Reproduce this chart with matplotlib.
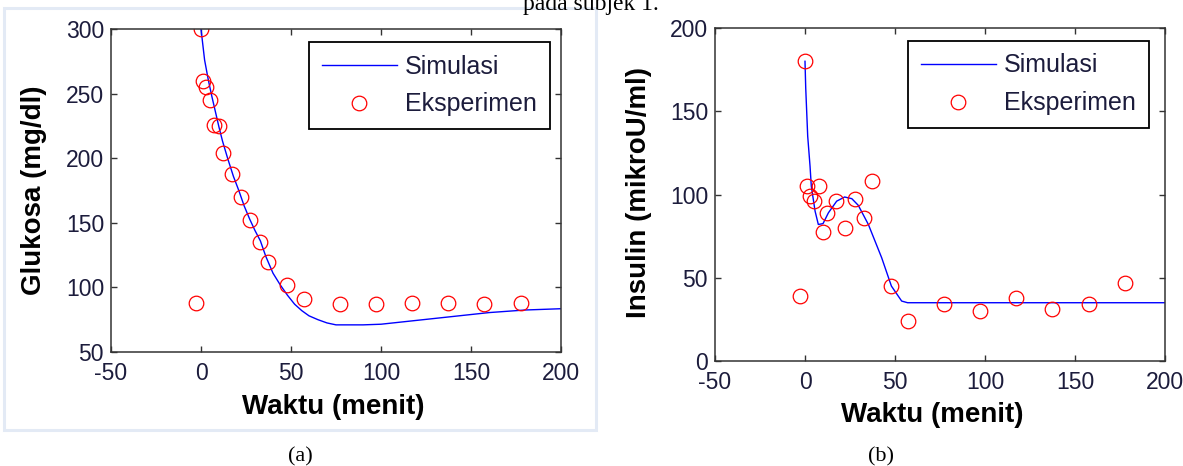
import matplotlib
matplotlib.use('Agg')
import matplotlib.pyplot as plt
from matplotlib.patches import Rectangle

# ---------------- data ----------------
t_data = [-3, 0, 1, 3, 5, 7, 10, 12, 17, 22, 27, 33, 37, 48, 57, 77, 97, 117, 137, 157, 178]
glukosa_data = [88, 300, 260, 255, 245, 226, 225, 204, 188, 170, 152, 135, 120, 102, 91, 87, 87, 88, 88, 87, 88]
t_ins_data = [-3, 0, 1, 3, 5, 8, 10, 12, 17, 22, 28, 33, 37, 48, 57, 77, 97, 117, 137, 158, 178]
insulin_data = [39, 180, 105, 99, 96, 105, 77.5, 89, 96, 80, 97, 86, 108, 45, 24, 34, 30, 38, 31, 34, 47]

t_sim_g = [0, 2, 4, 6, 8, 10, 12, 15, 18, 21, 24, 27, 30, 33, 36, 40, 44, 48, 52, 56, 60, 65,
           70, 75, 80, 90, 100, 110, 120, 130, 140, 150, 160, 170, 180, 190, 200]
glukosa_sim = [300, 276, 261, 248, 236, 224, 213, 199, 186, 175, 163, 153, 144, 136, 124, 111, 102,
               94, 87, 82, 78, 75, 72.5, 71, 71, 71, 71.5, 73, 74.5, 76, 77.5, 79, 80.5, 81.5, 82.5, 83, 83.5]

t_sim_i = [0, 0.4, 1.5, 2.8, 3.5, 5.6, 7.4, 10, 13, 17.6, 22, 26, 29.6, 35.2, 42.6, 48, 53.7, 57,
           65, 100, 150, 200]
insulin_sim = [180, 164, 135, 117, 105, 90, 82, 82.5, 89, 96, 98.5, 97.5, 93.5, 82, 62, 45, 36, 35,
               35, 35, 35, 35]

x_ticks = [-50, 0, 50, 100, 150, 200]
g_ticks = [50, 100, 150, 200, 250, 300]
i_ticks = [0, 50, 100, 150, 200]

# ---------------- style ----------------
plt.rcParams['font.family'] = ['Liberation Sans', 'DejaVu Sans']
plt.rcParams['axes.unicode_minus'] = False
W, H = 1183, 466
fig = plt.figure(figsize=(W / 100, H / 100), dpi=100)


def px(x0, y0, x1, y1):
    return [x0 / W, 1 - y1 / H, (x1 - x0) / W, (y1 - y0) / H]


tick_color = '#1c1c3c'
spine_color = '#333333'

# light frame around panel (a)
fig.patches.append(Rectangle((4 / W, 1 - 430 / H), 592 / W, 422 / H, transform=fig.transFigure,
                             fill=False, edgecolor='#e3eaf5', linewidth=2.2))


def style(ax):
    for s in ax.spines.values():
        s.set_color(spine_color)
        s.set_linewidth(1.1)
    ax.tick_params(direction='in', top=True, right=True, length=4, width=1,
                   color=spine_color, labelsize=16.5, labelcolor=tick_color)
    ax.tick_params(axis='x', pad=7)
    ax.tick_params(axis='y', pad=5)


def make_legend(ax, x0, y0):
    leg = ax.legend(loc='upper left', bbox_to_anchor=(x0 / W, 1 - y0 / H),
                    bbox_transform=fig.transFigure, borderaxespad=0, fancybox=False,
                    framealpha=1, edgecolor='black', fontsize=18, handlelength=3.0,
                    handletextpad=0.35, labelspacing=0.55, borderpad=0.5, numpoints=1)
    leg.get_frame().set_linewidth(1.3)
    for txt in leg.get_texts():
        txt.set_color(tick_color)
    return leg


# ---------------- panel (a) ----------------
ax1 = fig.add_axes(px(111, 29, 561, 352))
ax1.plot(t_sim_g, glukosa_sim, color='#0000ff', lw=1.0, label='Simulasi')
ax1.plot(t_data, glukosa_data, 'o', mfc='none', mec='#ff0000', mew=0.9, ms=10.5, label='Eksperimen')
ax1.set_xlim(-50, 200)
ax1.set_ylim(50, 300)
ax1.set_xticks(x_ticks)
ax1.set_yticks(g_ticks)
style(ax1)
ax1.set_xlabel('Waktu (menit)', fontsize=20, fontweight='bold', va='center')
ax1.xaxis.set_label_coords((333 - 111) / 450, (352 - 407) / 323)
ax1.set_ylabel('Glukosa (mg/dl)', fontsize=20, fontweight='bold', va='center')
ax1.yaxis.set_label_coords((34 - 111) / 450, (352 - 190) / 323)
make_legend(ax1, 309, 42)

# ---------------- panel (b) ----------------
ax2 = fig.add_axes(px(715, 28, 1165, 361))
ax2.plot(t_sim_i, insulin_sim, color='#0000ff', lw=1.0, label='Simulasi')
ax2.plot(t_ins_data, insulin_data, 'o', mfc='none', mec='#ff0000', mew=0.9, ms=10.5, label='Eksperimen')
ax2.set_xlim(-50, 200)
ax2.set_ylim(0, 200)
ax2.set_xticks(x_ticks)
ax2.set_yticks(i_ticks)
style(ax2)
ax2.set_xlabel('Waktu (menit)', fontsize=20, fontweight='bold', va='center')
ax2.xaxis.set_label_coords((932 - 715) / 450, (361 - 415) / 333)
ax2.set_ylabel('Insulin (mikroU/ml)', fontsize=20, fontweight='bold', va='center')
ax2.yaxis.set_label_coords((639 - 715) / 450, (361 - 193) / 333)
make_legend(ax2, 908, 41)

# ---------------- captions ----------------
fig.text(300 / W, 1 - 457 / H, '(a)', ha='center', va='center', fontsize=16,
         family='Liberation Serif')
fig.text(881 / W, 1 - 457 / H, '(b)', ha='center', va='center', fontsize=16,
         family='Liberation Serif')
fig.text(523 / W, 1 - 10 / H, 'pada subjek 1.', ha='left', va='baseline', fontsize=17,
         family='Liberation Serif')

fig.savefig('out.png', dpi=100)
